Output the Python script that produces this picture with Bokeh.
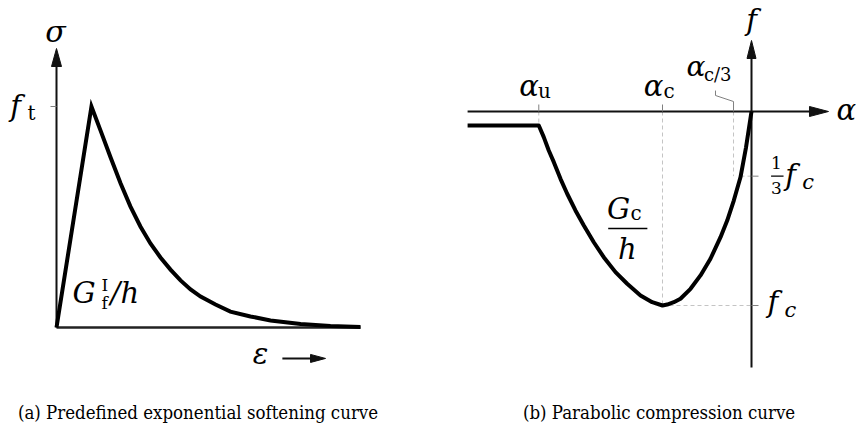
from bokeh.plotting import figure
from bokeh.layouts import row
from bokeh.models import Range1d
from bokeh.core.properties import value
from bokeh.embed import file_html
from bokeh.resources import INLINE

# ---------------------------------------------------------------
# (a) exponential softening curve: strain (normalised) vs sigma / f_t
eps = [0.0, 0.115, 0.145, 0.178, 0.211, 0.243, 0.276, 0.309, 0.342, 0.375,
       0.408, 0.441, 0.474, 0.523, 0.572, 0.638, 0.704, 0.803, 0.901, 1.0]
sig = [0.0, 1.0, 0.891, 0.769, 0.652, 0.548, 0.457, 0.380, 0.317, 0.262,
       0.213, 0.172, 0.140, 0.104, 0.072, 0.050, 0.032, 0.016, 0.007, 0.002]
F_T = 1.0

# (b) parabolic compression curve: alpha (in units of |alpha_c|) vs f / |f_c|
alpha = [-3.19, -2.390, -2.334, -2.278, -2.221, -2.146, -2.071, -1.978, -1.884,
         -1.772, -1.660, -1.528, -1.397, -1.247, -1.116, -1.0, -0.947, -0.873,
         -0.798, -0.685, -0.573, -0.461, -0.348, -0.273, -0.199, -0.124, -0.062, 0.0]
fval = [-0.072, -0.072, -0.132, -0.201, -0.261, -0.347, -0.424, -0.510, -0.588,
        -0.674, -0.751, -0.828, -0.888, -0.948, -0.983, -1.0, -0.995, -0.983,
        -0.965, -0.914, -0.845, -0.759, -0.648, -0.562, -0.459, -0.339, -0.186, 0.0]
ALPHA_U = -2.390
ALPHA_C = -1.0
ALPHA_C3 = -0.202
F_C = -1.0
F_C3 = -1.0 / 3.0
F_RES = -0.072

W, H = 428, 425
SERIF = value("DejaVu Serif")
CAPTION_FONT = value("'DejaVu Serif Condensed', 'DejaVu Serif', serif")
INK = "#111111"
DASH_COL = "#c4c4c4"
TICK_COL = "#808080"


def make_fig(sx, sy, ox, oy):
    """Figure whose data origin sits at pixel (ox, oy), sx/sy pixels per unit."""
    p = figure(width=W, height=H, output_backend="svg", toolbar_location=None,
               x_axis_type=None, y_axis_type=None, tools="", min_border=0,
               x_range=Range1d(-ox / sx, (W - ox) / sx),
               y_range=Range1d(-(H - oy) / sy, oy / sy))
    p.grid.visible = False
    p.outline_line_color = None
    p.background_fill_color = "white"
    p.border_fill_color = "white"
    return p


def put(p, x, y, txt, size=30, style="italic", align="left", font=SERIF):
    # baseline placement, lifted a third of the font size
    p.text(x=[x], y=[y], text=[txt], text_font=font, text_font_size=f"{size}px",
           text_font_style=style, text_align=align, text_baseline="alphabetic",
           y_offset=-round(0.33 * size), text_color="black")


def head(p, tx, ty, direction, length, half, sx, sy, color=INK):
    """Filled triangular arrow head with its tip at (tx, ty); sizes in pixels."""
    if direction == "up":
        xs = [tx, tx - half / sx, tx + half / sx]
        ys = [ty, ty - length / sy, ty - length / sy]
    else:
        xs = [tx, tx - length / sx, tx - length / sx]
        ys = [ty, ty + half / sy, ty - half / sy]
    p.patch(xs, ys, fill_color=color, line_color=color, line_width=1)


# ---------------------------- (a) ----------------------------
LSX, LSY = 304.0, 221.0
pa = make_fig(LSX, LSY, 56.0, 327.0)

sig_top = 279.0 / LSY          # tip of the sigma axis
pa.line([0, 0], [0, sig_top - 10 / LSY], line_color=INK, line_width=2)
head(pa, 0, sig_top, "up", 18, 5, LSX, LSY)
pa.line([0, eps[-1]], [0, 0], line_color="#222222", line_width=2.5)

# f_t tick
pa.line([-6 / LSX, 0], [F_T, F_T], line_color=TICK_COL, line_width=1)

# softening curve
pa.line(eps, sig, line_color="black", line_width=4, line_join="miter")

# labels
put(pa, -0.003, 1.295, "σ", size=30, align="center")
put(pa, -0.152, 0.955, "f", size=29)
put(pa, -0.095, 0.937, "t", size=20, style="normal")
put(pa, 0.053, 0.113, "G", size=29)
put(pa, 0.148, 0.167, "I", size=17, style="normal")
put(pa, 0.148, 0.082, "f", size=17, style="normal")
put(pa, 0.178, 0.113, "/h", size=29)
put(pa, 0.671, -0.163, "ε", size=29, align="center")
pa.line([0.743, 0.85], [-0.140, -0.140], line_color=INK, line_width=2)
head(pa, 0.885, -0.140, "right", 15, 4, LSX, LSY)

put(pa, 0.4655, -0.412, "(a) Predefined exponential softening curve",
    size=18.5, style="normal", align="center", font=CAPTION_FONT)

# ---------------------------- (b) ----------------------------
RSX, RSY = 89.0, 194.0
pb = make_fig(RSX, RSY, 751.0 - 428.0, 111.0)

a_left, a_tip = -3.19, 0.865
f_bot, f_tip = -1.32, 0.366

# helper lines
pb.line([ALPHA_U, ALPHA_U], [0, F_RES], line_color=DASH_COL, line_width=1, line_dash="4 3")
pb.line([ALPHA_C, ALPHA_C], [0, F_C], line_color=DASH_COL, line_width=1, line_dash="4 3")
pb.line([ALPHA_C, 0], [F_C, F_C], line_color=DASH_COL, line_width=1, line_dash="4 3")
pb.line([ALPHA_C3, ALPHA_C3], [0, F_C3], line_color=DASH_COL, line_width=1, line_dash="4 3")
pb.line([ALPHA_C3 + 7 / RSX, 0], [F_C3, F_C3], line_color=DASH_COL, line_width=1, line_dash="4 3")

# axes
pb.line([a_left, a_tip - 10 / RSX], [0, 0], line_color=INK, line_width=2)
head(pb, a_tip, 0, "right", 19, 5, RSX, RSY)
pb.line([0, 0], [f_bot, f_tip - 10 / RSY], line_color=INK, line_width=2)
head(pb, 0, f_tip, "up", 18, 4.5, RSX, RSY)

# ticks
for a in (ALPHA_U, ALPHA_C):
    pb.line([a, a], [0, 7 / RSY], line_color=TICK_COL, line_width=1)
for fv in (F_C3, F_C):
    pb.line([0, 7 / RSX], [fv, fv], line_color=TICK_COL, line_width=1)
# leader to alpha_c/3
pb.line([-0.4045, -0.4045, ALPHA_C3, ALPHA_C3], [0.108, 0.0825, 0.0515, 0.0],
        line_color=TICK_COL, line_width=1)

# compression curve
pb.line(alpha, fval, line_color="black", line_width=4, line_join="round")

# labels
put(pb, 0.0, 0.422, "f", size=29, align="center")
put(pb, 0.955, -0.045, "α", size=29)
put(pb, -2.61, 0.082, "α", size=29)
put(pb, -2.40, 0.072, "u", size=20, style="normal")
put(pb, -1.21, 0.082, "α", size=29)
put(pb, -0.99, 0.072, "c", size=20, style="normal")
put(pb, -0.73, 0.186, "α", size=28)
put(pb, -0.535, 0.160, "c/3", size=18, style="normal")

put(pb, 0.281, -0.294, "1", size=17, style="normal", align="center")
pb.line([0.22, 0.36], [F_C3, F_C3], line_color="black", line_width=1.2)
put(pb, 0.281, -0.423, "3", size=17, style="normal", align="center")
put(pb, 0.38, -0.381, "f", size=29)
put(pb, 0.57, -0.397, "c", size=21)

put(pb, 0.18, -1.036, "f", size=29)
put(pb, 0.37, -1.057, "c", size=21)

put(pb, -1.625, -0.552, "G", size=29)
put(pb, -1.36, -0.557, "c", size=20, style="normal")
pb.line([-1.61, -1.17], [-0.603, -0.603], line_color="black", line_width=1.5)
put(pb, -1.394, -0.758, "h", size=29, align="center")

put(pb, -1.039, -1.584, "(b) Parabolic compression curve",
    size=18.5, style="normal", align="center", font=CAPTION_FONT)

layout = row(pa, pb, spacing=0)
open("out.html", "w").write(file_html(layout, INLINE))
